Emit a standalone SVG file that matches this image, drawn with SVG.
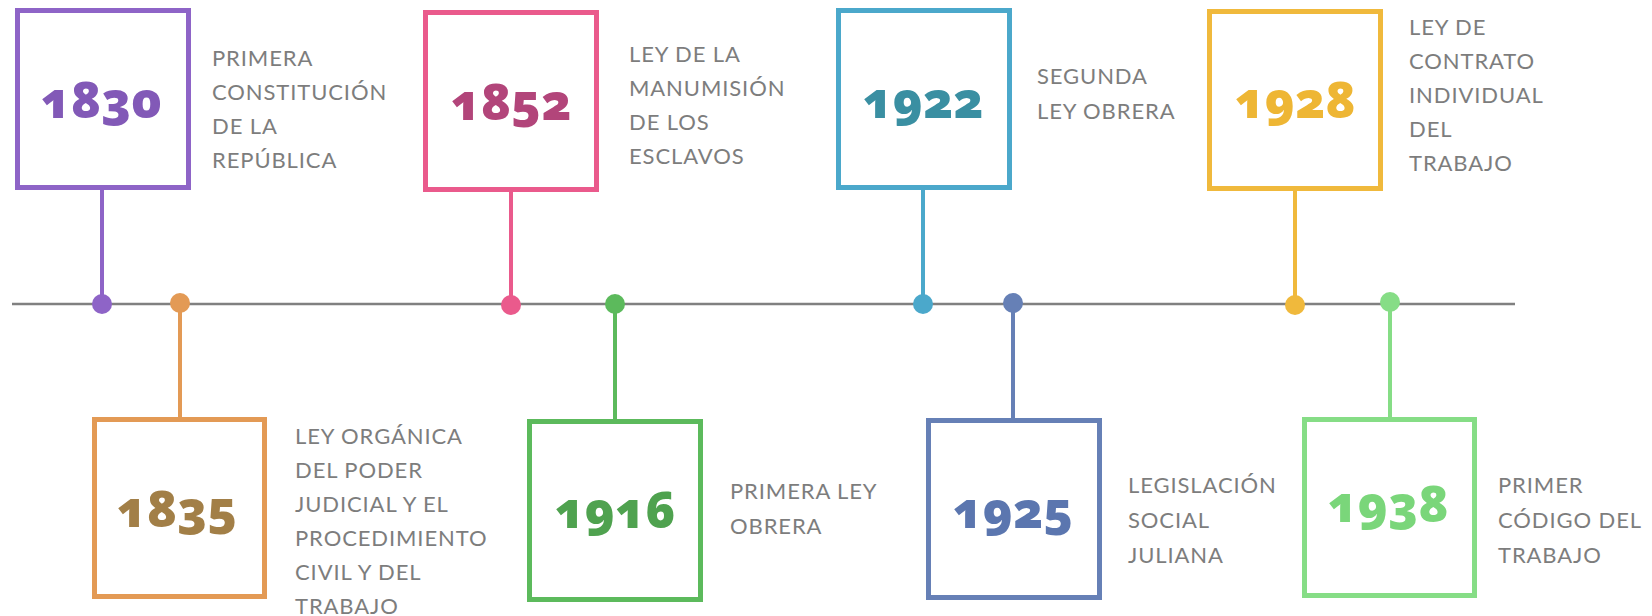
<svg xmlns="http://www.w3.org/2000/svg" width="1652" height="616" viewBox="0 0 1652 616">
<style>
.box{fill:#fff;stroke-width:5}
.stem{stroke-width:4}
.num{font-family:"Open Sans","Lato",sans-serif;font-weight:800;font-size:50px;text-anchor:middle;font-variant-numeric:oldstyle-nums}
.lbl{font-family:"Lato","Open Sans",sans-serif;font-size:22px;font-weight:400;letter-spacing:0.9px;fill:#7d7d7d}
</style>
<rect width="1652" height="616" fill="#fff"/>
<g id="connectors">
<line x1="12" y1="304" x2="1515" y2="304" stroke="#808080" stroke-width="2.5"/>
<line class="stem" x1="102" y1="190" x2="102" y2="304" stroke="#8E64C7"/>
<line class="stem" x1="180" y1="304" x2="180" y2="418" stroke="#E39A55"/>
<line class="stem" x1="511" y1="192" x2="511" y2="304" stroke="#EA5A8C"/>
<line class="stem" x1="615" y1="304" x2="615" y2="420" stroke="#5CBA5C"/>
<line class="stem" x1="923" y1="190" x2="923" y2="304" stroke="#4BA8CB"/>
<line class="stem" x1="1013" y1="304" x2="1013" y2="419" stroke="#6680B6"/>
<line class="stem" x1="1295" y1="191" x2="1295" y2="304" stroke="#F0B93C"/>
<line class="stem" x1="1390" y1="304" x2="1390" y2="418" stroke="#86DD86"/>
<circle cx="102" cy="304" r="10" fill="#8E64C7"/>
<circle cx="180" cy="303" r="10" fill="#E39A55"/>
<circle cx="511" cy="305" r="10" fill="#EA5A8C"/>
<circle cx="615" cy="304" r="10" fill="#5CBA5C"/>
<circle cx="923" cy="304" r="10" fill="#4BA8CB"/>
<circle cx="1013" cy="303" r="10" fill="#6680B6"/>
<circle cx="1295" cy="305" r="10" fill="#F0B93C"/>
<circle cx="1390" cy="302" r="10" fill="#86DD86"/>
</g>
<g id="n1830">
<rect class="box" x="17.5" y="10.5" width="171" height="177" stroke="#8E64C7"/>
<text class="num" x="101" y="118" fill="#8259B7">1830</text>
<text class="lbl" x="212"><tspan x="212" y="66">PRIMERA</tspan><tspan x="212" y="100">CONSTITUCIÓN</tspan><tspan x="212" y="134">DE LA</tspan><tspan x="212" y="168">REPÚBLICA</tspan></text>
</g>
<g id="n1835">
<rect class="box" x="94.5" y="419.5" width="170" height="177" stroke="#E39A55"/>
<text class="num" x="177" y="527" fill="#A27F47">1835</text>
<text class="lbl" x="295"><tspan x="295" y="444">LEY ORGÁNICA</tspan><tspan x="295" y="478">DEL PODER</tspan><tspan x="295" y="512">JUDICIAL Y EL</tspan><tspan x="295" y="546">PROCEDIMIENTO</tspan><tspan x="295" y="580">CIVIL Y DEL</tspan><tspan x="295" y="614">TRABAJO</tspan></text>
</g>
<g id="n1852">
<rect class="box" x="425.5" y="12.5" width="171" height="177" stroke="#EA5A8C"/>
<text class="num" x="511" y="120" fill="#B2457A">1852</text>
<text class="lbl" x="629"><tspan x="629" y="62">LEY DE LA</tspan><tspan x="629" y="96">MANUMISIÓN</tspan><tspan x="629" y="130">DE LOS</tspan><tspan x="629" y="164">ESCLAVOS</tspan></text>
</g>
<g id="n1916">
<rect class="box" x="529.5" y="421.5" width="171" height="178" stroke="#5CBA5C"/>
<text class="num" x="615" y="528" fill="#4FA24F">1916</text>
<text class="lbl" x="730"><tspan x="730" y="499">PRIMERA LEY</tspan><tspan x="730" y="534">OBRERA</tspan></text>
</g>
<g id="n1922">
<rect class="box" x="838.5" y="10.5" width="171" height="177" stroke="#4BA8CB"/>
<text class="num" x="923" y="118" fill="#3A8FA2">1922</text>
<text class="lbl" x="1037"><tspan x="1037" y="84">SEGUNDA</tspan><tspan x="1037" y="119">LEY OBRERA</tspan></text>
</g>
<g id="n1925">
<rect class="box" x="928.5" y="420.5" width="171" height="177" stroke="#6680B6"/>
<text class="num" x="1013" y="528" fill="#5B76AF">1925</text>
<text class="lbl" x="1128"><tspan x="1128" y="493">LEGISLACIÓN</tspan><tspan x="1128" y="528">SOCIAL</tspan><tspan x="1128" y="563">JULIANA</tspan></text>
</g>
<g id="n1928">
<rect class="box" x="1209.5" y="11.5" width="171" height="177" stroke="#F0B93C"/>
<text class="num" x="1295" y="118" fill="#EEB634">1928</text>
<text class="lbl" x="1409"><tspan x="1409" y="35">LEY DE</tspan><tspan x="1409" y="69">CONTRATO</tspan><tspan x="1409" y="103">INDIVIDUAL</tspan><tspan x="1409" y="137">DEL</tspan><tspan x="1409" y="171">TRABAJO</tspan></text>
</g>
<g id="n1938">
<rect class="box" x="1304.5" y="419.5" width="170" height="176" stroke="#86DD86"/>
<text class="num" x="1388" y="522" fill="#7AD67A">1938</text>
<text class="lbl" x="1498"><tspan x="1498" y="493">PRIMER</tspan><tspan x="1498" y="528">CÓDIGO DEL</tspan><tspan x="1498" y="563">TRABAJO</tspan></text>
</g>
</svg>
